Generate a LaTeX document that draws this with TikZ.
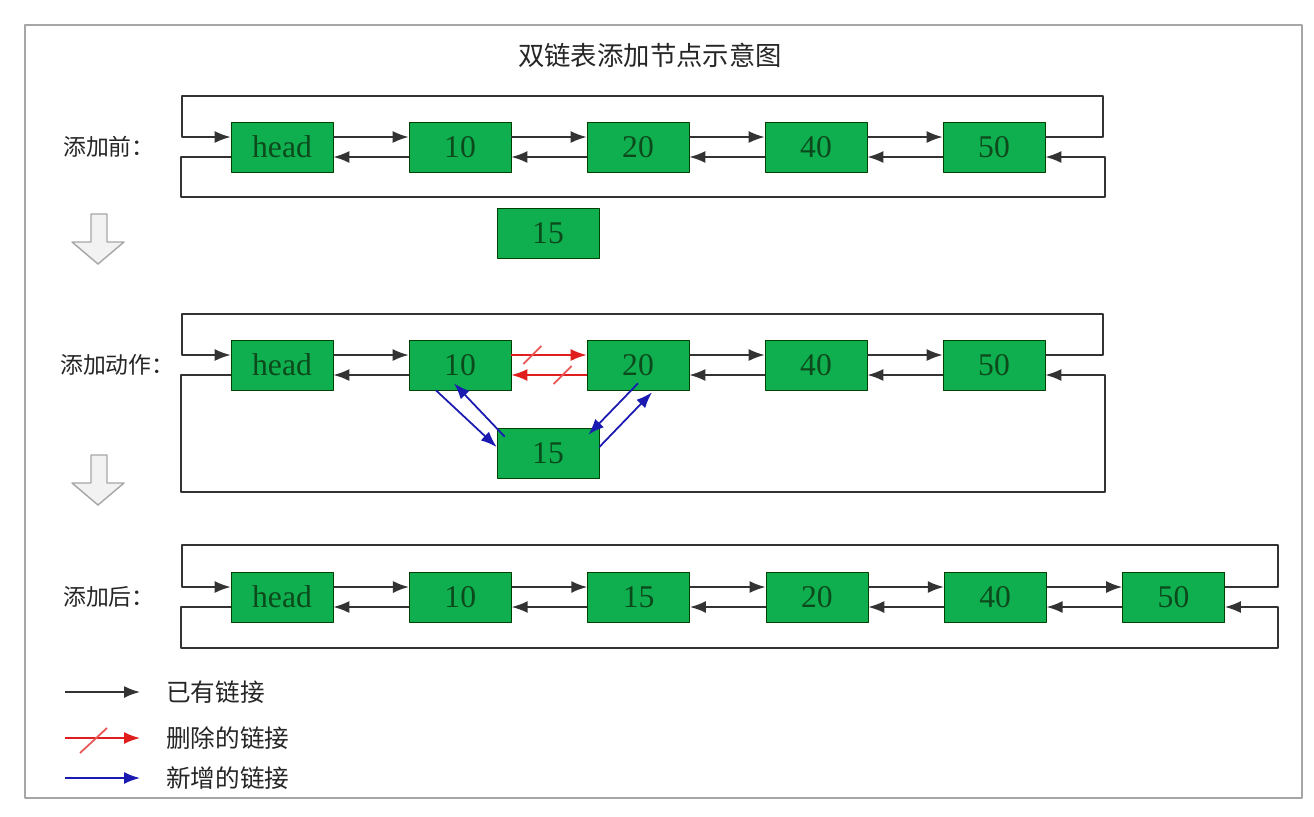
\documentclass[tikz,border=0pt]{standalone}
\usepackage{fontspec}
\setmainfont{Liberation Serif}
\newfontfamily\cjk{Noto Sans CJK SC}
\usetikzlibrary{arrows.meta}
\definecolor{nodegreen}{HTML}{0FAE4F}
\definecolor{nodetext}{HTML}{0C4A1C}
\definecolor{linegray}{HTML}{333333}
\definecolor{delred}{HTML}{E01E1E}
\definecolor{addblue}{HTML}{1A1AB0}
\begin{document}
\begin{tikzpicture}[x=0.02cm, y=-0.02cm, line join=round, >={Latex[length=3.2mm,width=2.4mm]},
		elem/.style={draw=green!25!black, fill=nodegreen, text=nodetext, minimum width=2.04cm, minimum height=1cm, inner sep=0pt, font=\fontsize{18}{20}\selectfont},
		link/.style={->, linegray, line width=1pt},
		dellink/.style={->, delred, line width=1pt},
		addlink/.style={->, addblue, line width=1pt},
		lbl/.style={anchor=west, text=black!85, font=\cjk\fontsize{13}{15}\selectfont}]
	\def\dy{2mm}
	\fill[white] (0,0) rectangle (1314,816);
	\useasboundingbox (0,0) rectangle (1314,816);
	\draw[gray!70, line width=1.2pt] (25,25) rectangle (1302,798);
	\node[font=\cjk\fontsize{15}{17}\selectfont, text=black!85] (title) at (650,55) {双链表添加节点示意图};
	% before
	\node[lbl] (la) at (57,147) {添加前：};
	\foreach \t [count=\i] in {head,10,20,40,50}
		\node[elem] (a\i) at ({282+178*(\i-1)},147) {\t};
	\node[elem] (a15) at (548,233) {15};
	\foreach \i [evaluate=\i as \j using int(\i+1)] in {1,...,4} {
		\draw[link] ([yshift=\dy]a\i.east) -- ([yshift=\dy]a\j.west);
		\draw[link] ([yshift=-\dy]a\j.west) -- ([yshift=-\dy]a\i.east);
	}
	\draw[link] ([yshift=\dy]a5.east) -- ++(58,0) |- (182,96) |- ([yshift=\dy]a1.west);
	\draw[link] ([yshift=-\dy]a1.west) -- ++(-50,0) |- (1105,197) |- ([yshift=-\dy]a5.east);
	\foreach \t in {214,455}
		\draw[fill=blue!4!gray!10, draw=gray!70, line width=0.8pt] (91,\t) -- (107,\t) -- (107,\t+28) -- (124,\t+28) -- (98,\t+50) -- (72,\t+28) -- (91,\t+28) -- cycle;
	% action
	\node[lbl] (lb) at (54,365) {添加动作：};
	\foreach \t [count=\i] in {head,10,20,40,50}
		\node[elem] (b\i) at ({282+178*(\i-1)},365) {\t};
	\node[elem] (b15) at (548,453) {15};
	\foreach \i/\j in {1/2,3/4,4/5} {
		\draw[link] ([yshift=\dy]b\i.east) -- ([yshift=\dy]b\j.west);
		\draw[link] ([yshift=-\dy]b\j.west) -- ([yshift=-\dy]b\i.east);
	}
	\draw[dellink] ([yshift=\dy]b2.east) -- coordinate[pos=.28] (s1) ([yshift=\dy]b3.west);
	\draw[dellink] ([yshift=-\dy]b3.west) -- coordinate[pos=.32] (s2) ([yshift=-\dy]b2.east);
	\draw[delred!75!white, line width=1pt] (s1) ++(-9,9) -- ++(18,-18) (s2) ++(-9,9) -- ++(18,-18);
	\draw[addlink] ([xshift=-0.48cm]b2.south) -- ([yshift=0.12cm]b15.west);
	\draw[addlink] ([xshift=0.16cm,yshift=-0.18cm]b15.north west) -- ([xshift=-0.12cm,yshift=0.14cm]b2.south);
	\draw[addlink] ([yshift=0.14cm]b3.south) -- ([xshift=-0.22cm,yshift=-0.14cm]b15.north east);
	\draw[addlink] ([yshift=0.12cm]b15.east) -- ([xshift=0.28cm,yshift=-0.04cm]b3.south);
	\draw[link] ([yshift=\dy]b5.east) -- ++(58,0) |- (182,314) |- ([yshift=\dy]b1.west);
	\draw[link] ([yshift=-\dy]b1.west) -- ++(-50,0) |- (1105,492) |- ([yshift=-\dy]b5.east);
	% after
	\node[lbl] (lc) at (57,597) {添加后：};
	\foreach \t [count=\i] in {head,10,15,20,40,50}
		\node[elem] (c\i) at ({282+178.3*(\i-1)},597) {\t};
	\foreach \i [evaluate=\i as \j using int(\i+1)] in {1,...,5} {
		\draw[link] ([yshift=\dy]c\i.east) -- ([yshift=\dy]c\j.west);
		\draw[link] ([yshift=-\dy]c\j.west) -- ([yshift=-\dy]c\i.east);
	}
	\draw[link] ([yshift=\dy]c6.east) -- ++(53,0) |- (182,545) |- ([yshift=\dy]c1.west);
	\draw[link] ([yshift=-\dy]c1.west) -- ++(-50,0) |- (1278,648) |- ([yshift=-\dy]c6.east);
	% legend
	\foreach \y/\s/\t [count=\i] in {692/link/已有链接,738/dellink/删除的链接,778/addlink/新增的链接} {
		\coordinate (k\i) at (65,\y);
		\coordinate (e\i) at (140,\y);
		\draw[\s] (k\i) -- (e\i);
		\node[lbl, font=\cjk\fontsize{14}{16}\selectfont] (t\i) at (160,\y) {\t};
	}
	\draw[delred!75!white, line width=1pt] (80,753) -- (107,728);
\end{tikzpicture}
\end{document}
